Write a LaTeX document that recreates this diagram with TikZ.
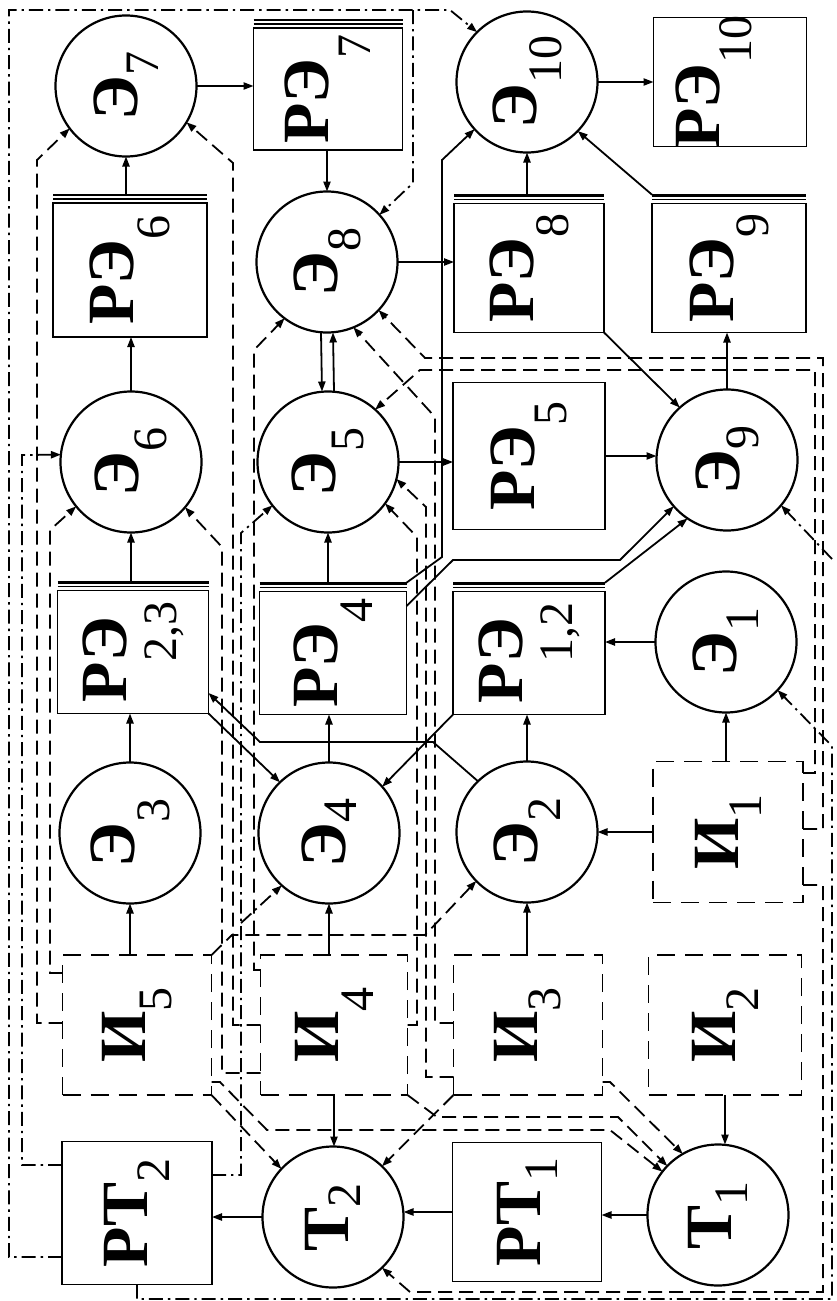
\documentclass[tikz,border=0pt]{standalone}
\usepackage{fontspec}
\setmainfont{Liberation Serif}
\usetikzlibrary{arrows.meta}
\newcommand\lbt[3]{\fontsize{33}{33}\selectfont\bfseries #1\raisebox{#3}{\fontsize{24}{24}\selectfont\mdseries #2}}
\newcommand\trip[1]{%
  \draw[line width=0.7pt] ([yshift=2.1pt]#1.north west) -- ([yshift=2.1pt]#1.north east);
  \draw[line width=1.1pt] ([yshift=4.0pt]#1.north west) -- ([yshift=4.0pt]#1.north east);
  \coordinate (#1t) at ([yshift=4.4pt]#1.north);}
\begin{document}
\begin{tikzpicture}[x=0.5pt,y=-0.5pt,
  ar/.style={-{Triangle[length=5pt,width=3.6pt]}},
  con/.style={line width=0.9pt},
  dsh/.style={con,dash pattern=on 7pt off 3.5pt},
  ddot/.style={con,dash pattern=on 7pt off 2.5pt on 1.2pt off 2.5pt},
  circ/.style={draw,circle,line width=1.1pt,minimum size=70.5pt,inner sep=0pt,outer sep=0pt},
  bx/.style={draw,rectangle,line width=0.9pt,inner sep=0pt,outer sep=0pt},
  ibx/.style={bx,dash pattern=on 9pt off 5pt},
  lb/.style={rotate=90,inner sep=0pt},
]
\useasboundingbox (0,0) rectangle (836,1301);
% circles
\node[circ] (e7) at (126,86) {};
\node[circ] (e10) at (527,82) {};
\node[circ] (e8) at (327,262) {};
\node[circ] (e6) at (131,462) {};
\node[circ] (e5) at (328,462) {};
\node[circ] (e9) at (727,460) {};
\node[circ] (e1) at (726,642) {};
\node[circ] (e3) at (130,833) {};
\node[circ] (e4) at (329,833) {};
\node[circ] (e2) at (527,832) {};
\node[circ] (t2) at (333,1217) {};
\node[circ] (t1) at (718,1215) {};
% boxes
\node[bx,minimum width=74.5pt,minimum height=61pt] (re7) at (328,89) {};
\node[bx,minimum width=76.5pt,minimum height=64.5pt] (re10) at (730,82) {};
\node[bx,minimum width=77pt,minimum height=67pt] (re6) at (130,270) {};
\node[bx,minimum width=75pt,minimum height=64.5pt] (re8) at (529,268) {};
\node[bx,minimum width=77pt,minimum height=64.5pt] (re9) at (729,268) {};
\node[bx,minimum width=76pt,minimum height=73.5pt] (re5) at (529,456) {};
\node[bx,minimum width=75.5pt,minimum height=61.5pt] (re23) at (133,652) {};
\node[bx,minimum width=73.5pt,minimum height=61.5pt] (re4) at (333,653) {};
\node[bx,minimum width=76pt,minimum height=61.5pt] (re12) at (529,653) {};
\node[ibx,minimum width=75pt,minimum height=70.5pt] (i1) at (728,832) {};
\node[ibx,minimum width=74.5pt,minimum height=70pt] (i5) at (137,1025) {};
\node[ibx,minimum width=73.5pt,minimum height=70pt] (i4) at (334,1025) {};
\node[ibx,minimum width=74.5pt,minimum height=70pt] (i3) at (528,1025) {};
\node[ibx,minimum width=76.5pt,minimum height=70pt] (i2) at (725,1025) {};
\node[bx,minimum width=75pt,minimum height=71.5pt] (pt2) at (137,1213) {};
\node[bx,minimum width=74.5pt,minimum height=69.5pt] (pt1) at (527,1212) {};
\trip{re7}\trip{re6}\trip{re8}\trip{re9}\trip{re23}\trip{re4}\trip{re12}
% labels
\node[lb] (e7l) at (e7) {\lbt{Э}{7}{-10.5pt}};
\node[lb] (re7l) at (re7) {\lbt{РЭ}{7}{-21pt}};
\node[lb] (e10l) at (e10) {\lbt{Э}{10}{-12.5pt}};
\node[lb] (re10l) at ([xshift=-8pt]re10) {\lbt{РЭ}{10}{-16pt}};
\node[lb] (re6l) at (re6) {\lbt{РЭ}{6}{-18pt}};
\node[lb] (e8l) at (e8) {\lbt{Э}{8}{-11.5pt}};
\node[lb] (re8l) at (re8) {\lbt{РЭ}{8}{-17.5pt}};
\node[lb] (re9l) at (re9) {\lbt{РЭ}{9}{-17.5pt}};
\node[lb] (e6l) at (e6) {\lbt{Э}{6}{-14pt}};
\node[lb] (e5l) at (e5) {\lbt{Э}{5}{-14pt}};
\node[lb] (re5l) at (re5) {\lbt{РЭ}{5}{-16pt}};
\node[lb] (e9l) at (e9) {\lbt{Э}{9}{-9.5pt}};
\node[lb] (re23l) at (re23) {\lbt{Р\rlap{Э}}{2,3}{-25pt}};
\node[lb] (re4l) at (re4) {\lbt{РЭ}{4}{-17.5pt}};
\node[lb] (re12l) at (re12) {\lbt{Р\rlap{Э}}{1,2}{-25pt}};
\node[lb] (e1l) at (e1) {\lbt{Э}{1}{-11pt}};
\node[lb] (e3l) at (e3) {\lbt{Э}{3}{-17.5pt}};
\node[lb] (e4l) at (e4) {\lbt{Э}{4}{-5.5pt}};
\node[lb] (e2l) at (e2) {\lbt{Э}{2}{-11.5pt}};
\node[lb] (i1l) at (i1) {\lbt{И}{1}{-11.5pt}};
\node[lb] (i5l) at (i5) {\lbt{И}{5}{-13pt}};
\node[lb] (i4l) at (i4) {\lbt{И}{4}{-17.5pt}};
\node[lb] (i3l) at (i3) {\lbt{И}{3}{-11.5pt}};
\node[lb] (i2l) at (i2) {\lbt{И}{2}{-11.5pt}};
\node[lb] (pt2l) at (pt2) {\lbt{РТ}{2}{-11pt}};
\node[lb] (t2l) at (t2) {\lbt{Т}{2}{-6pt}};
\node[lb] (pt1l) at (pt1) {\lbt{РТ}{1}{-8.5pt}};
\node[lb] (t1l) at (t1) {\lbt{Т}{1}{-8pt}};
% solid connectors
\draw[con,ar] (e3.south |- i5.north) -- (e3.south);
\draw[con,ar] (e3.north) -- (e3.north |- re23.south);
\draw[con,ar] (e6.south |- re23t) -- (e6.south);
\draw[con,ar] (e6.north) -- (e6.north |- re6.south);
\draw[con,ar] (e7.south |- re6t) -- (e7.south);
\draw[con,ar] (e7.east) -- (e7.east -| re7.west);
\draw[con,ar] (e8.north |- re7.south) -- (e8.north);
\draw[con,ar] ([xshift=-3pt]e8.south) -- ([xshift=-3pt]e5.north);
\draw[con,ar] ([xshift=3pt]e5.north) -- ([xshift=3pt]e8.south);
\draw[con,ar] (e5.south |- re4t) -- (e5.south);
\draw[con,ar] (e4.north) -- (e4.north |- re4.south);
\draw[con,ar] (e4.south |- i4.north) -- (e4.south);
\draw[con,ar] (i4.south) -- (i4.south |- t2.north);
\draw[con,ar] (t2.west) -- (t2.west -| pt2.east);
\draw[con,ar] (pt1.west) -- (pt1.west -| t2.east);
\draw[con,ar] (t1.west) -- (t1.west -| pt1.east);
\draw[con,ar] (i2.south) -- (i2.south |- t1.north);
\draw[con,ar] (e8.east) -- (e8.east -| re8.west);
\draw[con,ar] (e10.south |- re8t) -- (e10.south);
\draw[con,ar] (e10.east) -- (e10.east -| re10.west);
\draw[con,ar] (e5.east) -- (e5.east -| re5.west);
\draw[con,ar] (re5.east) -- (re5.east -| e9.west);
\draw[con,ar] (e9.north) -- (e9.north |- re9.south);
\draw[con,ar] (re9t -| re9.west) -- (e10.-44);
\draw[con,ar] (re8.south east) -- (e9.132);
\draw[con,ar] (e2.north) -- (e2.north |- re12.south);
\draw[con,ar] (e1.west) -- (e1.west -| re12.east);
\draw[con,ar] (e1.south |- i1.north) -- (e1.south);
\draw[con,ar] (i1.west) -- (i1.west -| e2.east);
\draw[con,ar] (e2.south |- i3.north) -- (e2.south);
\draw[con,ar] (re12t -| re12.east) -- (e9.-124);
\draw[con,ar] ([yshift=23.5pt]re4.east) -- (453,560) -- (620,560) -- (e9.-139);
\draw[con,ar] (re4t -| re4.east) -- (442,557) -- (442,160) -- (e10.-138);
\draw[con,ar] (re12.south west) -- (e4.41);
\draw[con,ar] (re23.south east) -- (e4.134);
\draw[con,ar] (e2.134) -- (433,742) -- (260,742) -- ([yshift=-20.5pt]re23.east);
% dashed connectors
\draw[dsh,ar] (i5.north east) -- (232,935) -- (425,935) -- (e2.-136);
\draw[dsh,ar] (i5.west |- 0,973) -- (50,973) -- (50,530) -- (e6.-141);
\draw[dsh,ar] (i5.west |- 0,1023) -- (37,1023) -- (37,160) -- (e7.-143);
\draw[dsh,ar] (i4.west |- 0,1073) -- (222,1073) -- (222,547) -- (e6.-40);
\draw[dsh,ar] (i4.west |- 0,1025) -- (233,1025) -- (233,163) -- (e7.-31);
\draw[dsh,ar] (i4.west |- 0,970) -- (254,970) -- (254,350) -- (e8.-127);
\draw[dsh,ar] (i4.east |- 0,1025) -- (417,1025) -- (417,537) -- (e5.-36);
\draw[dsh,ar] (i3.west |- 0,1077) -- (426,1077) -- (426,507) -- (e5.-14);
\draw[dsh,ar] (i3.west |- 0,1023) -- (435,1023) -- (435,417) -- (e8.-68);
\draw[dsh,ar] (i1.east |- 0,773) -- (815,773) -- (815,370) -- (420,370) -- (e5.48);
\draw[dsh,ar] (i1.east |- 0,829) -- (823,829) -- (823,358) -- (425,358) -- (e8.-43);
\draw[dsh,ar] (i1.east |- 0,885) -- (823,885) -- (823,1292) -- (410,1292) -- (t2.-46);
\draw[dsh,ar] (i5.south east) -- (t2.137);
\draw[dsh,ar] (i5.east |- 0,1082) -- (220,1082) -- (267,1130) -- (610,1130) -- (t1.142);
\draw[dsh,ar] (i4.south east) -- (437,1117) -- (618,1117) -- (t1.136);
\draw[dsh,ar] (i3.east |- 0,1082) -- (610,1082) -- (t1.120);
\draw[dsh,ar] (i3.south west) -- (t2.46);
% dash-dot connectors
\coordinate (j1) at (413,10);
\coordinate (j2) at (241,923);
\coordinate (j3) at (832,559);
\draw[ddot,ar] (pt2.west |- 0,1257) -- (9,1257) -- (9,10) -- (450,10) -- (e10.135);
\draw[ddot,ar] (j1) -- (413,183) -- (e8.42);
\draw[ddot,ar] (pt2.west |- 0,1165) -- (22,1165) -- (22,455) -- (e6.174);
\draw[ddot,ar] (pt2.east |- 0,1175) -- (241,1175) -- (241,533) -- (e5.-142);
\draw[ddot,ar] (j2) -- (e4.-132);
\draw[ddot,ar] (pt2.south) -- (pt2.south |- 0,1299) -- (832,1299) -- (832,746) -- (e1.-43);
\draw[ddot,ar] (j3) -- (e9.-40);
\end{tikzpicture}
\end{document}
